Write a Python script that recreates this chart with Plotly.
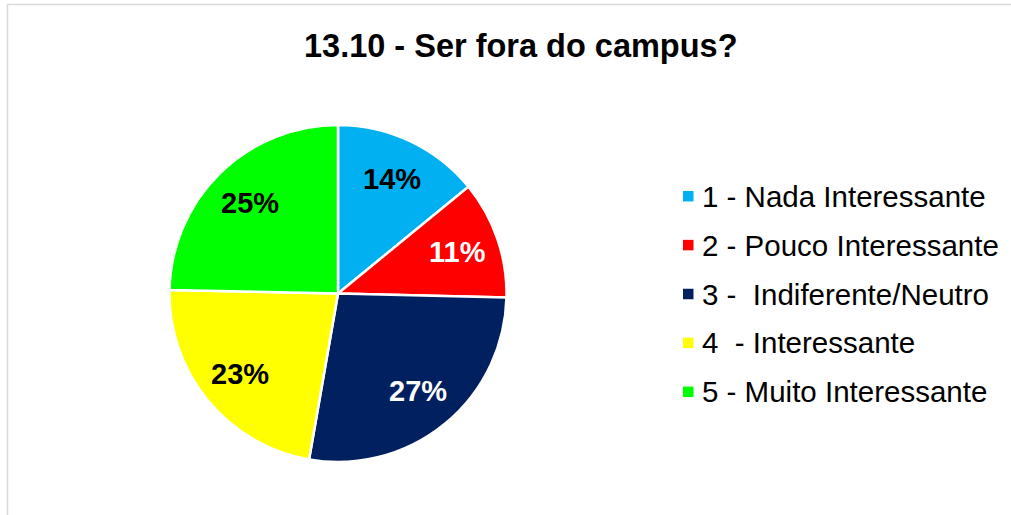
import math
import plotly.graph_objects as go

W, H = 1011, 515

categories = [
    "1 - Nada Interessante",
    "2 - Pouco Interessante",
    "3 -  Indiferente/Neutro",
    "4  - Interessante",
    "5 - Muito Interessante",
]
values = [14.1, 11.3, 27.4, 22.6, 24.7]
colors = ["#00B0F0", "#FF0000", "#002060", "#FFFF00", "#00FF00"]
label_colors = ["black", "white", "white", "black", "black"]
title_text = "13.10 - Ser fora do campus?"

FONT = "Liberation Sans, Arial, sans-serif"


def px(x):
    return x / W


def py(y):
    return 1 - y / H


# pie geometry (pixels)
CX, CY, R = 338.0, 293.5, 168.5
LABEL_R = 0.75

fig = go.Figure()
fig.add_trace(go.Pie(
    labels=categories,
    values=values,
    sort=False,
    direction="clockwise",
    rotation=0,
    marker=dict(colors=colors, line=dict(color="white", width=2.5)),
    textinfo="none",
    domain=dict(x=[px(CX - R), px(CX + R)], y=[py(CY + R), py(CY - R)]),
    showlegend=False,
    hoverinfo="label+percent",
))

shapes = [
    dict(type="rect", xref="paper", yref="paper",
         x0=px(7.5), x1=px(1030), y0=py(540), y1=py(4.5),
         line=dict(color="#D9D9D9", width=1.5), fillcolor="rgba(0,0,0,0)", layer="below"),
]
annotations = [
    dict(text="<b>" + title_text + "</b>", xref="paper", yref="paper",
         x=px(520), y=py(46), xanchor="center", yanchor="middle",
         showarrow=False, font=dict(family=FONT, size=32.5, color="black")),
]

# data labels placed from the cumulative shares of the slices
total = sum(values)
cum = 0.0
for v, tc in zip(values, label_colors):
    mid = (cum + v / 2) / total
    cum += v
    theta = 2 * math.pi * mid
    lx = CX + LABEL_R * R * math.sin(theta)
    ly = CY - LABEL_R * R * math.cos(theta)
    annotations.append(dict(text="<b>%d%%</b>" % round(100 * v / total), xref="paper", yref="paper",
                            x=px(lx), y=py(ly), xanchor="center", yanchor="middle",
                            showarrow=False, font=dict(family=FONT, size=29, color=tc)))

leg_top, leg_step = 196.2, 48.9
for i, (lab, col) in enumerate(zip(categories, colors)):
    yc = leg_top + i * leg_step
    shapes.append(dict(type="rect", xref="paper", yref="paper",
                       x0=px(683), x1=px(693.5), y0=py(yc + 5.25), y1=py(yc - 5.25),
                       line=dict(width=0), fillcolor=col))
    annotations.append(dict(text=lab, xref="paper", yref="paper",
                            x=px(700), y=py(yc), xanchor="left", yanchor="middle",
                            showarrow=False,
                            font=dict(family=FONT, size=29.5, color="black")))

fig.update_layout(
    width=W, height=H,
    margin=dict(l=0, r=0, t=0, b=0),
    paper_bgcolor="white", plot_bgcolor="white",
    shapes=shapes, annotations=annotations,
)

fig.write_html("out.html",
               config={"displayModeBar": False},
               post_script="document.body.style.margin='0';document.body.style.overflow='hidden';")
